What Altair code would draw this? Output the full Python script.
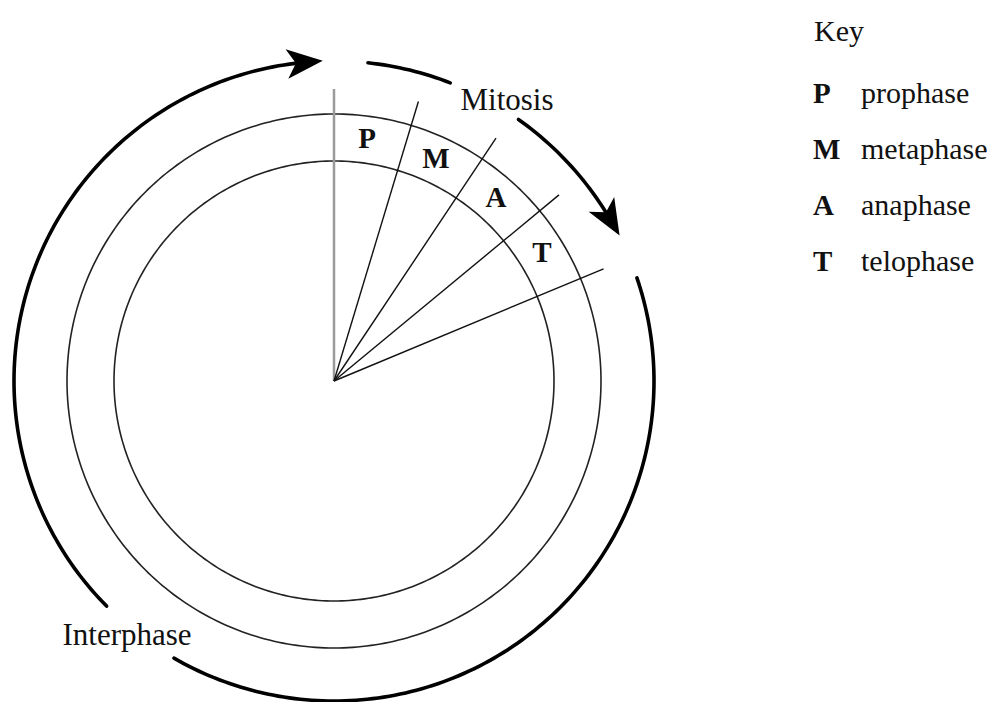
import math
import altair as alt
import pandas as pd

# ---------------- data ----------------
phase_letters = ["P", "M", "A", "T"]
phase_names = ["prophase", "metaphase", "anaphase", "telophase"]
phase_bounds_deg = [0.0, 16.8, 33.7, 50.4, 67.4]      # clockwise from 12 o'clock
ring_radii = [220, 267]
spoke_length = 292
cycle_radius = 320
interphase_segments = [(71.2, 210.0), (225.3, 354.0)]
interphase_tip_deg = 358.0
mitosis_segments = [(6.1, 21.3), (35.2, 59.0)]
mitosis_tip_deg = 63.0
key_title = "Key"

# ---------------- layout ----------------
CX, CY = 334, 381
W, H = 982, 694
X0, Y0 = 8, 8
FONT = "Liberation Serif"
FS = 31


def pt(deg, r):
    a = math.radians(deg)
    return CX + r * math.sin(a), CY - r * math.cos(a)


# rings
ring_rows = []
for i, r in enumerate(ring_radii):
    for k in range(0, 361):
        x, y = pt(k, r)
        ring_rows.append({"x": x, "y": y, "seg": f"ring{i}", "o": k})
rings_df = pd.DataFrame(ring_rows)

# cycle arcs
arc_rows = []
for name, segs in (("inter", interphase_segments), ("mito", mitosis_segments)):
    for j, (a0, a1) in enumerate(segs):
        n = max(2, int(abs(a1 - a0)) + 1)
        for k in range(n + 1):
            d = a0 + (a1 - a0) * k / n
            x, y = pt(d, cycle_radius)
            arc_rows.append({"x": x, "y": y, "seg": f"{name}{j}", "o": k})
arcs_df = pd.DataFrame(arc_rows)

# arrow heads
head_len = 36.0
head_rows = []
for tip in (interphase_tip_deg, mitosis_tip_deg):
    cdeg = tip - math.degrees(head_len / 2 / cycle_radius)
    x, y = pt(cdeg, cycle_radius)
    head_rows.append({"x": x, "y": y, "rot": (cdeg + 90) % 360})
heads_df = pd.DataFrame(head_rows)

# spokes
spoke_rows = []
for i, d in enumerate(phase_bounds_deg):
    x2, y2 = pt(d, spoke_length)
    spoke_rows.append({"x": CX, "y": CY, "x2": x2, "y2": y2,
                       "col": "#9a9a9a" if i == 0 else "#111111",
                       "sw": 2.5 if i == 0 else 1.4})
spokes_df = pd.DataFrame(spoke_rows)

# phase letters in the band
mid_r = (ring_radii[0] + ring_radii[1]) / 2
letter_rows = []
for i, L in enumerate(phase_letters):
    d = (phase_bounds_deg[i] + phase_bounds_deg[i + 1]) / 2 - 0.6
    x, y = pt(d, mid_r + 1)
    letter_rows.append({"x": x, "y": y, "t": L})
letters_df = pd.DataFrame(letter_rows)

# arc labels
labels_df = pd.DataFrame([
    {"x": 507, "y": 101, "t": "Mitosis"},
    {"x": 127, "y": 636, "t": "Interphase"},
])

# key
key_title_df = pd.DataFrame([{"x": 814, "y": 41, "t": key_title}])
key_rows = []
for i, (L, n) in enumerate(zip(phase_letters, phase_names)):
    key_rows.append({"x": 813, "y": 103 + 56 * i, "t": L, "n": n, "xn": 861})
key_df = pd.DataFrame(key_rows)

xs = alt.Scale(domain=[X0, X0 + W], nice=False, zero=False)
ys = alt.Scale(domain=[Y0, Y0 + H], nice=False, zero=False, reverse=True)
X = alt.X("x:Q", scale=xs, axis=None)
Y = alt.Y("y:Q", scale=ys, axis=None)

rings = alt.Chart(rings_df).mark_line(color="#222222", strokeWidth=1.6).encode(
    x=X, y=Y, detail="seg:N", order="o:Q")

arcs = alt.Chart(arcs_df).mark_line(color="#000000", strokeWidth=3.6, strokeCap="round").encode(
    x=X, y=Y, detail="seg:N", order="o:Q")

arrow_path = "M0,-1L0.82,1L0,0.5L-0.82,1Z"
heads = alt.Chart(heads_df).mark_point(
    shape=arrow_path, filled=True, color="#000000", opacity=1, strokeWidth=0
).encode(x=X, y=Y, angle=alt.Angle("rot:Q", scale=None), size=alt.value(head_len ** 2))

spokes = alt.Chart(spokes_df).mark_rule().encode(
    x=X, y=Y, x2="x2:Q", y2="y2:Q",
    color=alt.Color("col:N", scale=None),
    strokeWidth=alt.StrokeWidth("sw:Q", scale=None))

letters = alt.Chart(letters_df).mark_text(
    font=FONT, fontSize=FS - 2, fontWeight="bold", color="#111111", baseline="middle", align="center"
).encode(x=X, y=Y, text="t:N")

labels = alt.Chart(labels_df).mark_text(
    font=FONT, fontSize=FS, color="#111111", baseline="middle", align="center"
).encode(x=X, y=Y, text="t:N")

ktitle = alt.Chart(key_title_df).mark_text(
    font=FONT, fontSize=FS - 1, color="#111111", baseline="alphabetic", align="left"
).encode(x=X, y=Y, text="t:N")

kletters = alt.Chart(key_df).mark_text(
    font=FONT, fontSize=FS - 2, fontWeight="bold", color="#111111", baseline="alphabetic", align="left"
).encode(x=X, y=Y, text="t:N")

knames = alt.Chart(key_df).mark_text(
    font=FONT, fontSize=FS - 1, color="#111111", baseline="alphabetic", align="left"
).encode(x=alt.X("xn:Q", scale=xs, axis=None), y=Y, text="n:N")

chart = alt.layer(rings, spokes, arcs, heads, letters, labels, ktitle, kletters, knames).properties(
    width=W, height=H, padding=0, autosize=alt.AutoSizeParams(type="none"), background="white"
).configure_view(stroke=None)

chart.save("out.html", embed_options={"renderer": "svg", "actions": False})
